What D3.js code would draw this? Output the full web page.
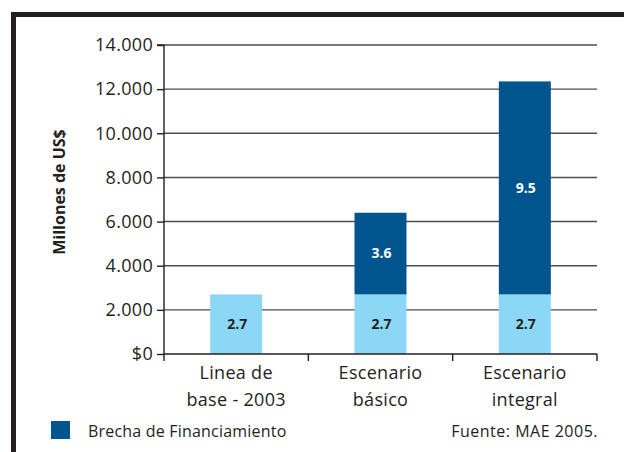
<!DOCTYPE html>
<html>
<head>
<meta charset="utf-8">
<script src="https://cdn.jsdelivr.net/npm/d3@7"></script>
<style>
  html, body { margin: 0; padding: 0; background: #fff; }
  svg { display: block; font-family: "Open Sans", "Noto Sans", sans-serif; }
</style>
</head>
<body>
<svg id="chart" width="624" height="452"></svg>
<script>
// ---- data ----
const categories = [["Linea de", "base - 2003"], ["Escenario", "básico"], ["Escenario", "integral"]];
const baseValues = [2700, 2700, 2700];          // light blue (linea de base)
const gapValues = [0, 3700, 9650];               // dark blue (brecha de financiamiento)
const baseLabels = ["2.7", "2.7", "2.7"];
const gapLabels = ["", "3.6", "9.5"];
const yTicks = [0, 2000, 4000, 6000, 8000, 10000, 12000, 14000];
const yTickLabels = ["$0", "2.000", "4.000", "6.000", "8.000", "10.000", "12.000", "14.000"];
const yTitle = "Millones de US$";
const legendLabel = "Brecha de Financiamiento";
const sourceLabel = "Fuente: MAE 2005.";

const lightColor = "#8dd7f6";
const darkColor = "#00558e";
const ink = "#231f20";

const svg = d3.select("#chart");

// frame
svg.append("path")
  .attr("d", "M13.5,452 L13.5,14.5 L624,14.5")
  .attr("fill", "none").attr("stroke", ink).attr("stroke-width", 5);

const margin = { left: 164, right: 27, top: 45, bottom: 98 };
const W = 624, H = 452;
const x = d3.scaleBand().domain(d3.range(categories.length))
  .range([margin.left, W - margin.right]).paddingInner(0).paddingOuter(0);
const y = d3.scaleLinear().domain([0, 14000]).range([H - margin.bottom, margin.top]);

// gridlines
svg.append("g").selectAll("line").data(yTicks.slice(1)).join("line")
  .attr("x1", margin.left).attr("x2", W - margin.right)
  .attr("y1", d => y(d)).attr("y2", d => y(d))
  .attr("stroke", "#4d4d4d").attr("stroke-width", 1.4);

// bars
const bw = 52;
const g = svg.append("g");
g.selectAll("rect.base").data(baseValues).join("rect")
  .attr("class", "base")
  .attr("x", (d, i) => x(i) + x.bandwidth() / 2 - bw / 2)
  .attr("width", bw)
  .attr("y", d => y(d))
  .attr("height", d => y(0) - y(d))
  .attr("fill", lightColor);
g.selectAll("rect.gap").data(gapValues).join("rect")
  .attr("class", "gap")
  .attr("x", (d, i) => x(i) + x.bandwidth() / 2 - bw / 2)
  .attr("width", bw)
  .attr("y", (d, i) => y(baseValues[i] + d))
  .attr("height", (d, i) => y(baseValues[i]) - y(baseValues[i] + d))
  .attr("fill", darkColor);

// bar labels
g.selectAll("text.bl").data(baseLabels).join("text")
  .attr("x", (d, i) => x(i) + x.bandwidth() / 2 + 1)
  .attr("y", (d, i) => (y(0) + y(baseValues[i])) / 2)
  .attr("dy", "0.35em").attr("text-anchor", "middle")
  .attr("font-size", 14).attr("font-weight", "bold").attr("fill", ink)
  .text(d => d);
g.selectAll("text.gl").data(gapLabels).join("text")
  .attr("x", (d, i) => x(i) + x.bandwidth() / 2 + 1)
  .attr("y", (d, i) => (y(baseValues[i]) + y(baseValues[i] + gapValues[i])) / 2)
  .attr("dy", "0.35em").attr("text-anchor", "middle")
  .attr("font-size", 14).attr("font-weight", "bold").attr("fill", "#fff")
  .text(d => d);

// y axis
const yAxis = d3.axisLeft(y).tickValues(yTicks).tickSize(7).tickPadding(4)
  .tickFormat((d, i) => yTickLabels[i]);
const ya = svg.append("g").attr("transform", `translate(${margin.left},0)`).call(yAxis);
ya.select(".domain").attr("stroke", ink).attr("stroke-width", 1.4).attr("d", `M-7,${y(14000)}H0V${y(0)}`);
ya.selectAll(".tick line").attr("stroke", ink).attr("stroke-width", 1.4);
ya.selectAll(".tick text").attr("font-size", 18).attr("fill", ink)
  .attr("letter-spacing", 0.3)
  .attr("font-family", "'Open Sans', sans-serif");

// x axis
const bounds = d3.range(categories.length + 1).map(i => margin.left + i * x.bandwidth());
svg.append("line").attr("x1", margin.left).attr("x2", W - margin.right)
  .attr("y1", y(0)).attr("y2", y(0)).attr("stroke", ink).attr("stroke-width", 1.6);
svg.append("g").selectAll("line").data(bounds).join("line")
  .attr("x1", d => d).attr("x2", d => d)
  .attr("y1", y(0)).attr("y2", y(0) + 7)
  .attr("stroke", ink).attr("stroke-width", 1.4);

const xl = svg.append("g").selectAll("text").data(categories).join("text")
  .attr("text-anchor", "middle").attr("font-size", 18).attr("fill", ink)
  .attr("letter-spacing", 0.3)
  .attr("x", (d, i) => x(i) + x.bandwidth() / 2)
  .attr("y", 379);
xl.selectAll("tspan").data(d => d).join("tspan")
  .attr("x", function () { return this.parentNode.getAttribute("x"); })
  .attr("dy", (d, j) => j === 0 ? 0 : 27)
  .text(d => d);

// y title
svg.append("text")
  .attr("transform", `translate(65,${192}) rotate(-90)`)
  .attr("text-anchor", "middle").attr("font-size", 16).attr("font-weight", "bold")
  .attr("fill", ink).text(yTitle);

// legend
svg.append("rect").attr("x", 51).attr("y", 421).attr("width", 19).attr("height", 18).attr("fill", darkColor);
svg.append("text").attr("x", 88).attr("y", 437).attr("font-size", 16).attr("letter-spacing", 0.2).attr("fill", ink).text(legendLabel);
svg.append("text").attr("x", 598).attr("y", 437).attr("text-anchor", "end").attr("font-size", 16).attr("letter-spacing", 0.5).attr("fill", ink).text(sourceLabel);
</script>
</body>
</html>
